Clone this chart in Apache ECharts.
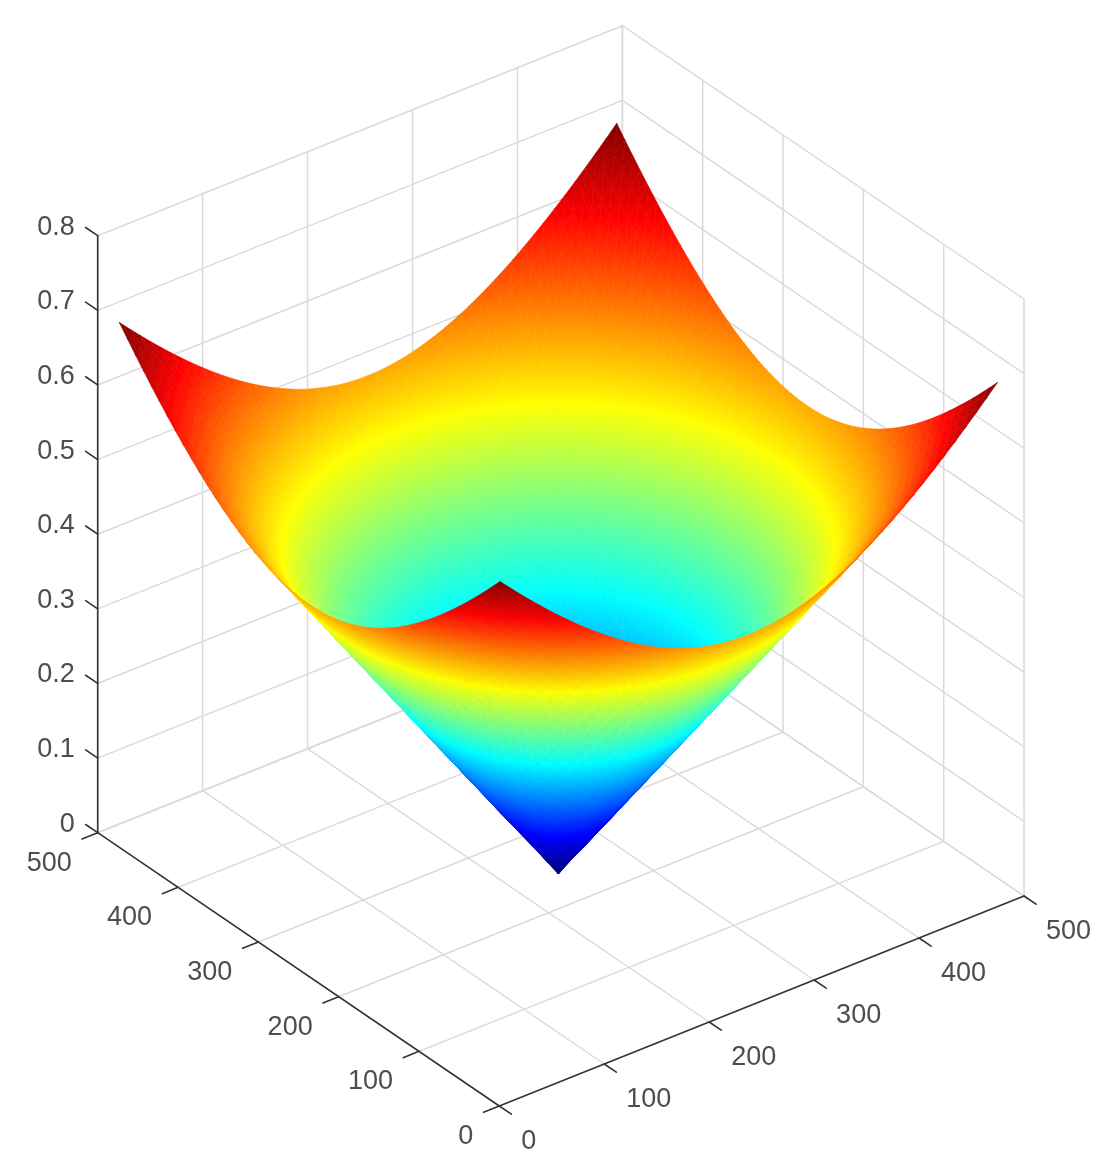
<!DOCTYPE html>
<html>
<head>
<meta charset="utf-8">
<title>surface</title>
<script src="https://cdn.jsdelivr.net/npm/echarts@6/dist/echarts.min.js"></script>
<style>
  html, body { margin: 0; padding: 0; background: #fff; }
  #main { width: 1105px; height: 1176px; filter: blur(0.6px); }
</style>
</head>
<body>
<div id="main"></div>
<script>
// sample positions along both floor axes, the tip of the cone sits at 240
const gridX = [3, 12.875, 22.75, 32.625, 42.5, 52.375, 62.25, 72.125, 82, 91.875, 101.75, 111.625, 121.5, 131.375, 141.25, 151.125, 161, 170.875, 180.75, 190.625, 200.5, 210.375, 220.25, 230.125, 240,
    249.875, 259.75, 269.625, 279.5, 289.375, 299.25, 309.125, 319, 328.875, 338.75, 348.625, 358.5, 368.375, 378.25, 388.125, 398, 407.875, 417.75, 427.625, 437.5, 447.375, 457.25, 467.125, 477];
const gridY = gridX;
// heights, one quarter of the surface counted outward from the tip.
// the picture is mirror symmetric about the tip so the other three quarters reuse this table
const quarterZ = [
  [0,.0206,.0412,.0618,.0824,.1030,.1236,.1442,.1648,.1854,.2060,.2265,.2471,.2677,.2883,.3089,.3295,.3501,.3707,.3913,.4119,.4325,.4531,.4737,.4943],
  [.0206,.0291,.0461,.0651,.0849,.1050,.1253,.1456,.1660,.1865,.2070,.2275,.2480,.2685,.2891,.3096,.3302,.3507,.3713,.3918,.4124,.4330,.4535,.4741,.4947],
  [.0412,.0461,.0582,.0743,.0921,.1109,.1303,.1499,.1698,.1899,.2100,.2303,.2506,.2709,.2913,.3117,.3321,.3525,.3730,.3935,.4140,.4344,.4550,.4755,.4960],
  [.0618,.0651,.0743,.0874,.1030,.1201,.1382,.1568,.1760,.1954,.2150,.2348,.2547,.2748,.2949,.3150,.3353,.3555,.3758,.3961,.4165,.4369,.4573,.4777,.4981],
  [.0824,.0849,.0921,.1030,.1165,.1319,.1485,.1660,.1842,.2028,.2218,.2411,.2605,.2801,.2999,.3197,.3396,.3597,.3797,.3999,.4200,.4403,.4605,.4808,.5011],
  [.1030,.1050,.1109,.1201,.1319,.1456,.1608,.1772,.1943,.2120,.2303,.2488,.2677,.2868,.3062,.3256,.3452,.3649,.3848,.4046,.4246,.4446,.4646,.4847,.5049],
  [.1236,.1253,.1303,.1382,.1485,.1608,.1747,.1899,.2060,.2228,.2402,.2581,.2763,.2949,.3137,.3327,.3519,.3713,.3908,.4104,.4300,.4498,.4696,.4895,.5095],
  [.1442,.1456,.1499,.1568,.1660,.1772,.1899,.2039,.2189,.2348,.2514,.2685,.2861,.3041,.3224,.3409,.3597,.3786,.3977,.4170,.4364,.4559,.4755,.4951,.5149],
  [.1648,.1660,.1698,.1760,.1842,.1943,.2060,.2189,.2330,.2480,.2637,.2801,.2970,.3144,.3321,.3501,.3684,.3869,.4057,.4246,.4436,.4628,.4821,.5015,.5210],
  [.1854,.1865,.1899,.1954,.2028,.2120,.2228,.2348,.2480,.2621,.2771,.2927,.3089,.3256,.3428,.3603,.3781,.3961,.4145,.4330,.4517,.4705,.4895,.5087,.5279],
  [.2060,.2070,.2100,.2150,.2218,.2303,.2402,.2514,.2637,.2771,.2913,.3062,.3217,.3378,.3543,.3713,.3886,.4062,.4241,.4422,.4605,.4790,.4977,.5165,.5355],
  [.2265,.2275,.2303,.2348,.2411,.2488,.2581,.2685,.2801,.2927,.3062,.3204,.3353,.3507,.3667,.3831,.3999,.4170,.4344,.4521,.4701,.4882,.5066,.5251,.5437],
  [.2471,.2480,.2506,.2547,.2605,.2677,.2763,.2861,.2970,.3089,.3217,.3353,.3495,.3644,.3797,.3956,.4119,.4286,.4455,.4628,.4804,.4981,.5161,.5343,.5526],
  [.2677,.2685,.2709,.2748,.2801,.2868,.2949,.3041,.3144,.3256,.3378,.3507,.3644,.3786,.3935,.4088,.4246,.4408,.4573,.4741,.4913,.5087,.5263,.5441,.5621],
  [.2883,.2891,.2913,.2949,.2999,.3062,.3137,.3224,.3321,.3428,.3543,.3667,.3797,.3935,.4078,.4226,.4378,.4536,.4696,.4861,.5028,.5198,.5370,.5545,.5722],
  [.3089,.3096,.3117,.3150,.3197,.3256,.3327,.3409,.3501,.3603,.3713,.3831,.3956,.4088,.4226,.4369,.4517,.4669,.4826,.4985,.5149,.5315,.5484,.5655,.5829],
  [.3295,.3302,.3321,.3353,.3396,.3452,.3519,.3597,.3684,.3781,.3886,.3999,.4119,.4246,.4378,.4517,.4660,.4808,.4960,.5116,.5275,.5437,.5602,.5770,.5940],
  [.3501,.3507,.3525,.3555,.3597,.3649,.3713,.3786,.3869,.3961,.4062,.4170,.4286,.4408,.4536,.4669,.4808,.4951,.5099,.5251,.5406,.5565,.5726,.5890,.6057],
  [.3707,.3713,.3730,.3758,.3797,.3848,.3908,.3977,.4057,.4145,.4241,.4344,.4455,.4573,.4696,.4826,.4960,.5099,.5243,.5390,.5541,.5696,.5854,.6015,.6179],
  [.3913,.3918,.3935,.3961,.3999,.4046,.4104,.4170,.4246,.4330,.4422,.4521,.4628,.4741,.4861,.4985,.5116,.5251,.5390,.5534,.5681,.5832,.5987,.6144,.6304],
  [.4119,.4124,.4140,.4165,.4200,.4246,.4300,.4364,.4436,.4517,.4605,.4701,.4804,.4913,.5028,.5149,.5275,.5406,.5541,.5681,.5825,.5973,.6123,.6277,.6434],
  [.4325,.4330,.4344,.4369,.4403,.4446,.4498,.4559,.4628,.4705,.4790,.4882,.4981,.5087,.5198,.5315,.5437,.5565,.5696,.5832,.5973,.6116,.6264,.6414,.6568],
  [.4531,.4535,.4550,.4573,.4605,.4646,.4696,.4755,.4821,.4895,.4977,.5066,.5161,.5263,.5370,.5484,.5602,.5726,.5854,.5987,.6123,.6264,.6408,.6555,.6705],
  [.4737,.4741,.4755,.4777,.4808,.4847,.4895,.4951,.5015,.5087,.5165,.5251,.5343,.5441,.5545,.5655,.5770,.5890,.6015,.6144,.6277,.6414,.6555,.6699,.6846],
  [.4943,.4947,.4960,.4981,.5011,.5049,.5095,.5149,.5210,.5279,.5355,.5437,.5526,.5621,.5722,.5829,.5940,.6057,.6179,.6304,.6434,.6568,.6705,.6846,.6990]
];

// axis ticks
const xTicks = [0, 100, 200, 300, 400, 500];
const yTicks = [0, 100, 200, 300, 400, 500];
const zTicks = [0, 0.1, 0.2, 0.3, 0.4, 0.5, 0.6, 0.7, 0.8];
const xTickLabels = ['0', '100', '200', '300', '400', '500'];
const yTickLabels = ['0', '100', '200', '300', '400', '500'];
const zTickLabels = ['0', '0.1', '0.2', '0.3', '0.4', '0.5', '0.6', '0.7', '0.8'];

// orthographic view: plane position of data (0,0,0) and what one data unit moves it by
const viewOrigin = [499.3, 1106];
const viewX = [1.0494, -0.42];
const viewY = [-0.8032, -0.5466];
const viewZ = [0, -746.25];

const xMax = xTicks[xTicks.length - 1];
const yMax = yTicks[yTicks.length - 1];
const zMax = zTicks[zTicks.length - 1];
const tickLen = 15;

function project(x, y, z) {
    return [
        viewOrigin[0] + x * viewX[0] + y * viewY[0] + z * viewZ[0],
        viewOrigin[1] + x * viewX[1] + y * viewY[1] + z * viewZ[1]
    ];
}

function heightAt(i, j) {
    const mid = (gridX.length - 1) / 2;
    return quarterZ[Math.abs(i - mid)][Math.abs(j - mid)];
}

// matlab jet
const jetStops = [
    [0, 0, 0, 127], [1 / 8, 0, 0, 255], [3 / 8, 0, 255, 255],
    [5 / 8, 255, 255, 0], [7 / 8, 255, 0, 0], [1, 127, 0, 0]
];
const surfaceMax = Math.max.apply(null, quarterZ.map(function (r) { return Math.max.apply(null, r); }));

function jet(v) {
    const t = Math.max(0, Math.min(1, v / surfaceMax));
    for (let i = 1; i < jetStops.length; i++) {
        const a = jetStops[i - 1], b = jetStops[i];
        if (t <= b[0]) {
            const f = (t - a[0]) / (b[0] - a[0]);
            return 'rgb(' + [1, 2, 3].map(function (k) { return Math.round(a[k] + (b[k] - a[k]) * f); }).join(',') + ')';
        }
    }
    return 'rgb(127,0,0)';
}

// fill for one triangle: gradient along the direction its value changes
function triangleFill(p, v) {
    const e1x = p[1][0] - p[0][0], e1y = p[1][1] - p[0][1];
    const e2x = p[2][0] - p[0][0], e2y = p[2][1] - p[0][1];
    const d1 = v[1] - v[0], d2 = v[2] - v[0];
    const det = e1x * e2y - e1y * e2x;
    const lo = Math.min(v[0], v[1], v[2]), hi = Math.max(v[0], v[1], v[2]);
    if (Math.abs(det) < 2 || hi - lo < 1e-6) {
        return jet((v[0] + v[1] + v[2]) / 3);
    }
    const gx = (d1 * e2y - d2 * e1y) / det;
    const gy = (d2 * e1x - d1 * e2x) / det;
    const g2 = gx * gx + gy * gy;
    const stops = [{ offset: 0, color: jet(lo) }];
    jetStops.forEach(function (s) {
        const val = s[0] * surfaceMax;
        if (val > lo && val < hi) {
            stops.push({ offset: (val - lo) / (hi - lo), color: jet(val) });
        }
    });
    stops.push({ offset: 1, color: jet(hi) });
    return {
        type: 'linear',
        global: true,
        x: p[0][0] + (lo - v[0]) * gx / g2,
        y: p[0][1] + (lo - v[0]) * gy / g2,
        x2: p[0][0] + (hi - v[0]) * gx / g2,
        y2: p[0][1] + (hi - v[0]) * gy / g2,
        colorStops: stops
    };
}

// split cells so that the diagonal points at the cone tip, then sort back to front
function buildTriangles() {
    const list = [];
    const cx = (gridX.length - 1) / 2, cy = (gridY.length - 1) / 2;
    const vert = function (i, j) { return [gridX[j], gridY[i], heightAt(i, j)]; };
    for (let i = 0; i < gridY.length - 1; i++) {
        for (let j = 0; j < gridX.length - 1; j++) {
            const a = vert(i, j), b = vert(i, j + 1), c = vert(i + 1, j + 1), d = vert(i + 1, j);
            if ((i + 0.5 - cy) * (j + 0.5 - cx) > 0) {
                list.push(a.concat(b, c), a.concat(c, d));
            } else {
                list.push(a.concat(b, d), b.concat(c, d));
            }
        }
    }
    const depth = function (t) {
        return project((t[0] + t[3] + t[6]) / 3, (t[1] + t[4] + t[7]) / 3, 0)[1];
    };
    list.sort(function (a, b) { return depth(a) - depth(b); });
    return list;
}

// grey lines on the two back walls and the floor
function buildGridLines() {
    const lines = [];
    xTicks.forEach(function (x) {
        if (x > 0) lines.push([x, 0, 0, x, yMax, 0]);
        lines.push([x, yMax, 0, x, yMax, zMax]);
    });
    yTicks.forEach(function (y) {
        if (y > 0) lines.push([0, y, 0, xMax, y, 0]);
        lines.push([xMax, y, 0, xMax, y, zMax]);
    });
    zTicks.forEach(function (z) {
        lines.push([0, yMax, z, xMax, yMax, z]);
        lines.push([xMax, 0, z, xMax, yMax, z]);
    });
    return lines;
}

function buildAxisLines() {
    const lines = [
        [0, 0, 0, xMax, 0, 0],
        [0, 0, 0, 0, yMax, 0],
        [0, yMax, 0, 0, yMax, zMax]
    ];
    xTicks.forEach(function (x) { lines.push([x, 0, 0, x, -tickLen, 0]); });
    yTicks.forEach(function (y) { lines.push([0, y, 0, -tickLen, y, 0]); });
    zTicks.forEach(function (z) { lines.push([0, yMax, z, 0, yMax + tickLen, z]); });
    return lines;
}

function lineRenderer(color, width) {
    return function (params, api) {
        const a = api.coord(project(api.value(0), api.value(1), api.value(2)));
        const b = api.coord(project(api.value(3), api.value(4), api.value(5)));
        return {
            type: 'line',
            shape: { x1: a[0], y1: a[1], x2: b[0], y2: b[1] },
            style: { stroke: color, lineWidth: width, lineCap: 'round' }
        };
    };
}

function renderTriangle(params, api) {
    const p = [], v = [];
    for (let k = 0; k < 3; k++) {
        p.push(api.coord(project(api.value(k * 3), api.value(k * 3 + 1), api.value(k * 3 + 2))));
        v.push(api.value(k * 3 + 2));
    }
    const fill = triangleFill(p, v);
    return {
        type: 'polygon',
        shape: { points: p },
        style: { fill: fill, stroke: fill, lineWidth: 0.6, lineJoin: 'round' }
    };
}

function labelSeries(name, items, align, dx, dy) {
    return {
        type: 'custom',
        name: name,
        silent: true,
        clip: false,
        animation: false,
        data: items,
        renderItem: function (params, api) {
            const c = api.coord(project(api.value(0), api.value(1), api.value(2)));
            return {
                type: 'text',
                x: c[0] + dx,
                y: c[1] + dy,
                style: {
                    text: items[params.dataIndex][3],
                    fill: '#4d4d4d',
                    font: '27px "Liberation Sans", Arial, sans-serif',
                    align: align,
                    verticalAlign: 'middle'
                }
            };
        }
    };
}

const chart = echarts.init(document.getElementById('main'), null, { renderer: 'canvas' });
chart.setOption({
    animation: false,
    backgroundColor: '#ffffff',
    grid: { left: 0, right: 0, top: 0, bottom: 0 },
    // plane the 3d view is projected on
    xAxis: { type: 'value', min: 0, max: 1105, show: false },
    yAxis: { type: 'value', min: 0, max: 1176, inverse: true, show: false },
    series: [
        {
            type: 'custom', name: 'grid', silent: true, clip: false, animation: false,
            data: buildGridLines(),
            renderItem: lineRenderer('#dadada', 1.5)
        },
        {
            type: 'custom', name: 'surface', silent: true, clip: false, animation: false, progressive: 0,
            data: buildTriangles(),
            renderItem: renderTriangle
        },
        {
            type: 'custom', name: 'axes', silent: true, clip: false, animation: false,
            data: buildAxisLines(),
            renderItem: lineRenderer('#333333', 1.6)
        },
        labelSeries('x labels', xTicks.map(function (x, i) { return [x, 0, 0, xTickLabels[i]]; }), 'left', 22, 35.5),
        labelSeries('y labels', yTicks.map(function (y, i) { return [0, y, 0, yTickLabels[i]]; }), 'right', -26, 30.5),
        labelSeries('z labels', zTicks.map(function (z, i) { return [0, yMax, z, zTickLabels[i]]; }), 'right', -23, -8.5)
    ]
});
</script>
</body>
</html>
